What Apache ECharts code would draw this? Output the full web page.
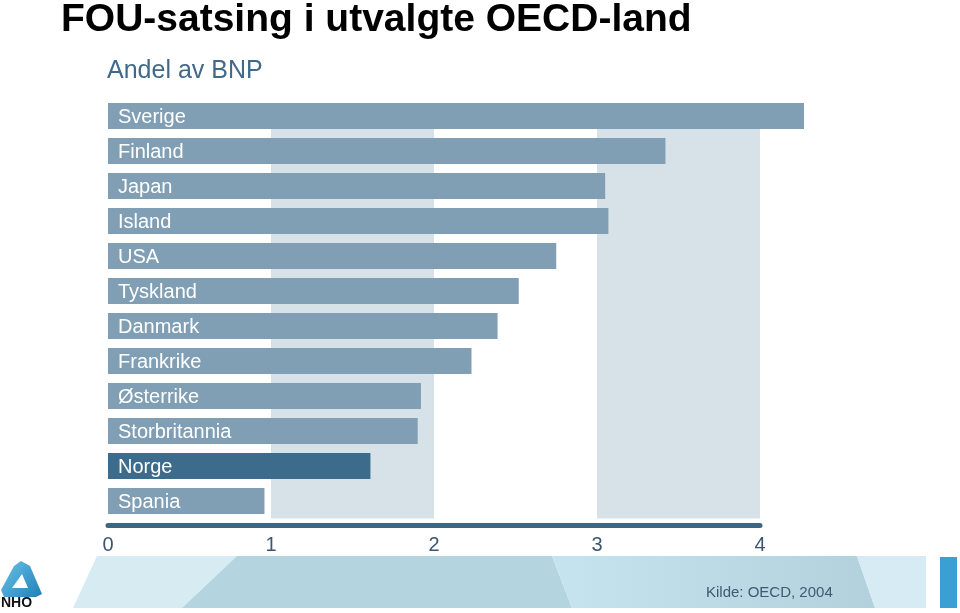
<!DOCTYPE html>
<html>
<head>
<meta charset="utf-8">
<script src="https://cdn.jsdelivr.net/npm/echarts@6/dist/echarts.min.js"></script>
<style>html,body{margin:0;padding:0;background:#fff}#c{width:960px;height:613px}</style>
</head>
<body>
<div id="c"></div>
<script>
var countries = ['Sverige','Finland','Japan','Island','USA','Tyskland','Danmark','Frankrike','Østerrike','Storbritannia','Norge','Spania'];
var values = [4.27, 3.42, 3.05, 3.07, 2.75, 2.52, 2.39, 2.23, 1.92, 1.90, 1.61, 0.96];
var highlight = 'Norge';
var xTicks = [0, 1, 2, 3, 4];

var FONT = '"Liberation Sans", Arial, sans-serif';
var chart = echarts.init(document.getElementById('c'), null, {renderer: 'canvas'});

var seriesData = countries.map(function (c, i) {
  return {
    value: values[i],
    itemStyle: { color: c === highlight ? '#3d6b8b' : '#809fb5' }
  };
});

chart.setOption({
  animation: false,
  backgroundColor: '#ffffff',
  title: [
    { text: 'FOU-satsing i utvalgte OECD-land', left: 61, top: 1, padding: 0,
      textStyle: { fontFamily: FONT, fontWeight: 'bold', fontSize: 39, color: '#000000' } },
    { text: 'Andel av BNP', left: 107, top: 59, padding: 0,
      textStyle: { fontFamily: FONT, fontWeight: 'normal', fontSize: 25, color: '#42698a' } }
  ],
  grid: { left: 108, right: 200, top: 98.5, height: 420, containLabel: false },
  xAxis: {
    type: 'value', min: 0, max: 4, interval: 1,
    offset: 7,
    axisLine: { show: true, lineStyle: { color: '#3b6684', width: 5, cap: 'round' } },
    axisTick: { show: false },
    splitLine: { show: false },
    splitArea: { show: true, areaStyle: { color: ['rgba(255,255,255,0)', '#d7e1e8'] } },
    axisLabel: { margin: 10, fontFamily: FONT, fontSize: 20, color: '#3a5673',
      formatter: function (v) { return xTicks.indexOf(v) >= 0 ? String(v) : ''; } }
  },
  yAxis: {
    type: 'category', data: countries, inverse: true,
    axisLine: { show: false }, axisTick: { show: false }, axisLabel: { show: false },
    splitLine: { show: false }
  },
  series: [{
    type: 'bar',
    data: seriesData,
    barWidth: 26,
    clip: false,
    label: { show: true, position: 'insideLeft', distance: 10, formatter: '{b}',
      fontFamily: FONT, fontSize: 20, color: '#ffffff', offset: [0, 1] }
  }],
  graphic: [
    { type: 'rect', z: 1, shape: { x: 265, y: 96, width: 500, height: 7 }, style: { fill: '#ffffff' } },
    { type: 'polygon', z: -1, shape: { points: [[97,556],[237,556],[182,608],[73,608]] }, style: { fill: '#d7ebf3' } },
    { type: 'polygon', z: -1, shape: { points: [[237,556],[552,556],[572,608],[182,608]] }, style: { fill: '#b4d4e0' } },
    { type: 'polygon', z: -1, shape: { points: [[552,556],[857,556],[875,608],[572,608]] },
      style: { fill: new echarts.graphic.LinearGradient(0, 0, 1, 0, [{offset: 0, color: '#c6e4f0'}, {offset: 1, color: '#b2d1dd'}]) } },
    { type: 'polygon', z: -1, shape: { points: [[857,556],[926,556],[926,608],[875,608]] }, style: { fill: '#d6ebf4' } },
    { type: 'rect', z: -1, shape: { x: 940, y: 557, width: 17, height: 51 }, style: { fill: '#3a9fd3' } },
    { type: 'text', left: 706, top: 585, style: { text: 'Kilde: OECD, 2004', font: '15px ' + FONT, fill: '#3d5a73' } },
    { type: 'polygon', shape: { points: [[21,561],[30,566],[42,594],[36,597],[4,597],[1,590],[14,566]] },
      style: { fill: new echarts.graphic.LinearGradient(0, 0, 1, 1, [{offset: 0, color: '#6cc3e8'}, {offset: 1, color: '#1f7fb8'}]) } },
    { type: 'polygon', shape: { points: [[22,574],[28,588],[12,588]] }, style: { fill: '#ffffff' } },
    { type: 'text', left: 1, top: 596, style: { text: 'NHO', font: 'bold 14px ' + FONT, fill: '#111111' } }
  ]
});
</script>
</body>
</html>
